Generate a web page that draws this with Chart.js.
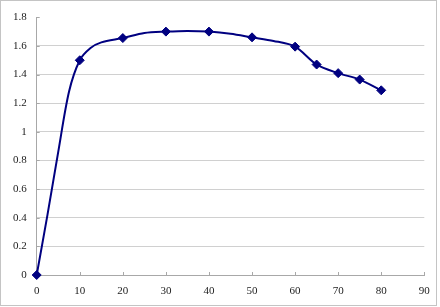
<!DOCTYPE html>
<html>
<head>
<meta charset="utf-8">
<script src="https://cdn.jsdelivr.net/npm/chart.js@4/dist/chart.umd.min.js"></script>
<style>
html,body{margin:0;padding:0;background:#fff;}
#wrap{width:440px;height:307px;position:relative;}
</style>
</head>
<body>
<div id="wrap"><canvas id="c" width="440" height="307"></canvas></div>
<script>
// Data
const xValues = [0, 2.5, 5, 7.5, 10, 12.5, 15, 20, 25, 30, 35, 40, 45, 50, 55, 60, 65, 70, 75, 80];
const yValues = [0, 0.42, 0.86, 1.28, 1.50, 1.585, 1.625, 1.655, 1.69, 1.70, 1.705, 1.70, 1.685, 1.66, 1.635, 1.595, 1.47, 1.41, 1.365, 1.29];
const markedPoint = [1, 0, 0, 0, 1, 0, 0, 1, 0, 1, 0, 1, 0, 1, 0, 1, 1, 1, 1, 1];
const xTicks = [0, 10, 20, 30, 40, 50, 60, 70, 80, 90];
const yTicks = [0, 0.2, 0.4, 0.6, 0.8, 1, 1.2, 1.4, 1.6, 1.8];

const points = xValues.map((x, i) => ({x: x, y: yValues[i]}));

const frame = {
  id: 'frame',
  beforeDraw(chart) {
    const ctx = chart.ctx;
    ctx.save();
    ctx.fillStyle = '#fff';
    ctx.fillRect(0, 0, chart.width, chart.height);
    ctx.strokeStyle = '#c4c4c4';
    ctx.lineWidth = 1;
    ctx.strokeRect(0.5, 0.5, 436, 305);
    ctx.restore();
  },
  afterDatasetsDraw(chart) {},
  beforeDatasetsDraw(chart) {
    const ctx = chart.ctx;
    const xs = chart.scales.x, ys = chart.scales.y;
    ctx.save();
    ctx.strokeStyle = '#a8a8a8';
    ctx.lineWidth = 1;
    ctx.beginPath();
    xTicks.forEach(v => {
      const px = Math.round(xs.getPixelForValue(v)) + 0.5;
      ctx.moveTo(px, ys.bottom);
      ctx.lineTo(px, ys.bottom - 3);
    });
    yTicks.forEach(v => {
      const py = Math.round(ys.getPixelForValue(v)) + 0.5;
      ctx.moveTo(xs.left, py);
      ctx.lineTo(xs.left + 3, py);
    });
    ctx.stroke();
    ctx.restore();
  }
};

new Chart(document.getElementById('c'), {
  type: 'line',
  data: {
    datasets: [{
      data: points,
      borderColor: '#000080',
      backgroundColor: '#000080',
      borderWidth: 2,
      tension: 0.3,
      fill: false,
      clip: false,
      pointStyle: 'rectRot',
      pointRadius: markedPoint.map(m => m ? 4.5 : 0),
      pointHoverRadius: markedPoint.map(m => m ? 4.5 : 0),
      pointBorderWidth: 1,
      pointBorderColor: '#000080',
      pointBackgroundColor: '#000080'
    }]
  },
  options: {
    responsive: false,
    animation: false,
    events: [],
    layout: {padding: {left: 0, right: 15.7, top: 17.3, bottom: 0}},
    plugins: {legend: {display: false}, tooltip: {enabled: false}},
    scales: {
      x: {
        type: 'linear',
        min: 0, max: 90,
        afterBuildTicks(s) { s.ticks = xTicks.map(v => ({value: v})); },
        afterFit(s) { s.height = 32; },
        grid: {display: false, drawTicks: false},
        border: {display: true, color: '#a8a8a8', width: 1},
        ticks: {
          padding: 10,
          color: '#222',
          font: {family: 'Liberation Serif', size: 11},
          maxRotation: 0,
          callback: v => String(v)
        }
      },
      y: {
        type: 'linear',
        min: 0, max: 1.8,
        afterBuildTicks(s) { s.ticks = yTicks.map(v => ({value: v})); },
        afterFit(s) { s.width = 36.7; },
        grid: {
          drawTicks: false,
          color: ctx => (ctx.tick && ctx.tick.value >= 1.79) || (ctx.tick && ctx.tick.value === 0) ? 'rgba(0,0,0,0)' : '#d0d0d0',
          lineWidth: 1
        },
        border: {display: true, color: '#a8a8a8', width: 1},
        ticks: {
          padding: 10,
          color: '#222',
          font: {family: 'Liberation Serif', size: 11},
          callback: v => String(Math.round(v * 10) / 10)
        }
      }
    }
  },
  plugins: [frame]
});
</script>
</body>
</html>
